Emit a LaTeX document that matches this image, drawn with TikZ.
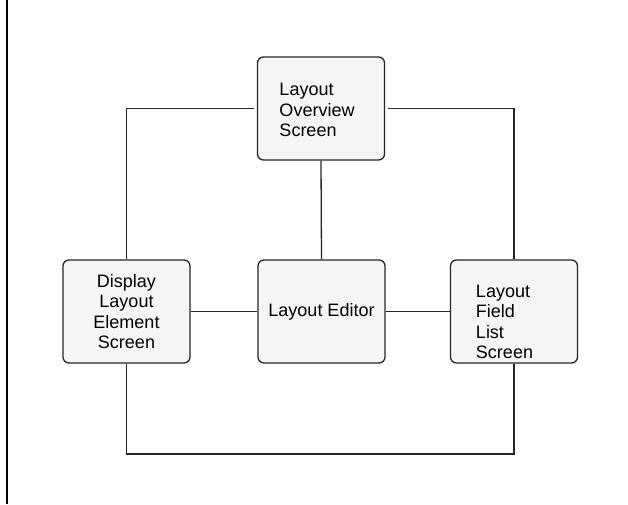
\documentclass[tikz,border=0pt]{standalone}
\usepackage{fontspec}
\setmainfont{Liberation Sans}
\begin{document}
\begin{tikzpicture}[x=1pt,y=-1pt,
  box/.style={draw=black!85, line width=1.3pt, fill=black!4, rounded corners=6pt,
    minimum width=127pt, minimum height=103pt, inner sep=0pt, align=center,
    font=\fontsize{18pt}{20.3pt}\selectfont},
  txt/.style={inner sep=0pt, align=left, font=\fontsize{18pt}{20.5pt}\selectfont},
  conn/.style={draw=black!85, line width=1.3pt}]
\useasboundingbox (0,0) rectangle (628,504);
\fill[white] (0,0) rectangle (628,504);
% left rule
\coordinate (rt) at (7,0);
\coordinate (rb) at (7,504);
\draw[conn, draw=black] (rt) -- (rb);
% boxes
\node[box] (top) at (321,108.5) {};
\node[txt] (toptext) at (317,110) {Layout\\Overview\\Screen};
\node[box] (left) at (126.5,311.5) {Display\\Layout\\Element\\Screen};
\node[box] (center) at (321.5,311.5) {Layout Editor};
\node[box] (right) at (514,311.5) {};
\node[txt] (righttext) at (504.5,322) {Layout\\Field\\List\\Screen};
% connectors
\coordinate (bl) at (126.5,454);
\draw[conn] (top.south) -- (center.north);
\draw[conn] (left.east) -- (center.west);
\draw[conn] (center.east) -- (right.west);
\draw[conn, shorten <=3pt] (top.west) -| (left.north);
\draw[conn, shorten <=3pt] (top.east) -| (right.north);
\draw[conn] (left.south) -- (bl) -| (right.south);
\end{tikzpicture}
\end{document}
